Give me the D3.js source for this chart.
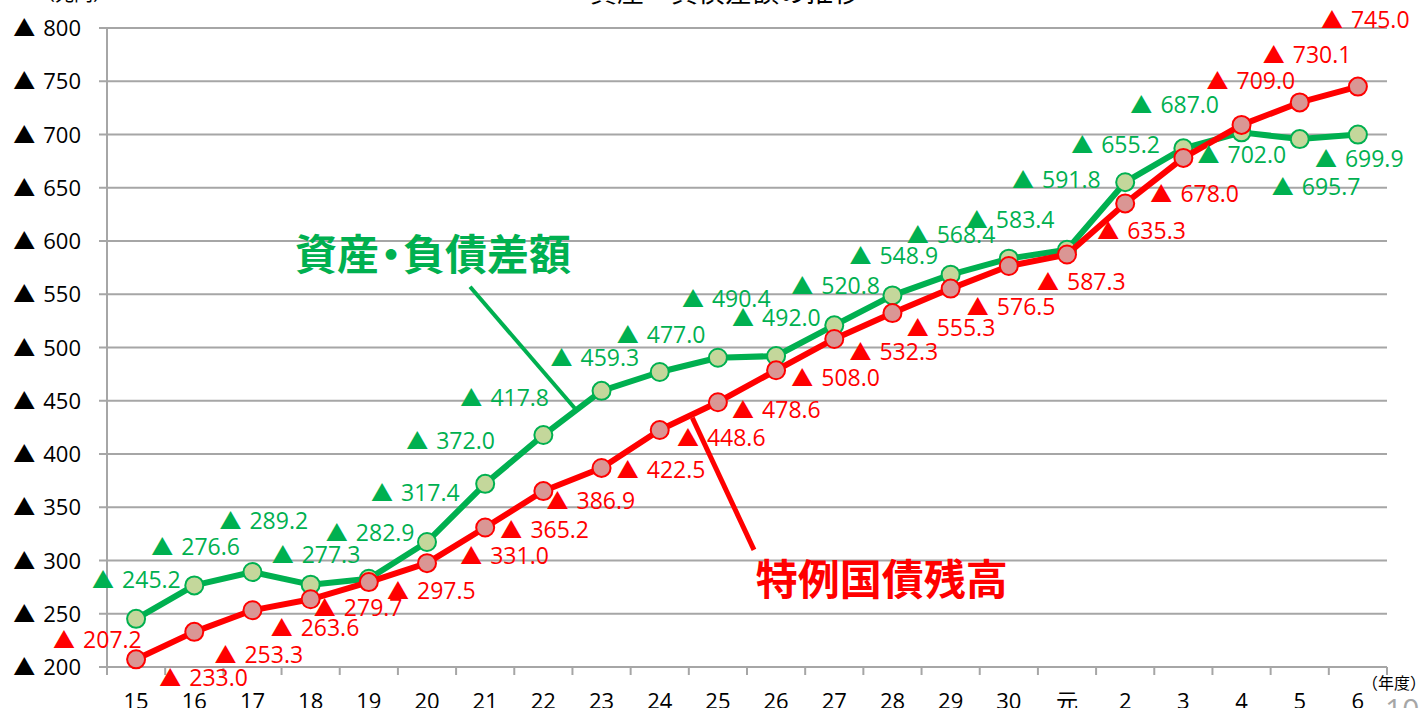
<!DOCTYPE html>
<html lang="ja">
<head>
<meta charset="utf-8">
<script src="https://cdn.jsdelivr.net/npm/d3@7"></script>
<style>
  html, body { margin: 0; padding: 0; background: #fff; overflow: hidden; }
  svg { display: block; }
  text { font-family: "Open Sans", "Noto Sans CJK JP", sans-serif; }
</style>
</head>
<body>
<svg id="chart"></svg>
<script>
// 年度
const categories = ['15', '16', '17', '18', '19', '20', '21', '22', '23', '24', '25',
  '26', '27', '28', '29', '30', '元', '2', '3', '4', '5', '6'];

// 資産・負債差額 (兆円, ▲)
const balanceGap = [245.2, 276.6, 289.2, 277.3, 282.9, 317.4, 372.0, 417.8, 459.3, 477.0, 490.4,
  492.0, 520.8, 548.9, 568.4, 583.4, 591.8, 655.2, 687.0, 702.0, 695.7, 699.9];

// 特例国債残高 (兆円)
const specialBonds = [207.2, 233.0, 253.3, 263.6, 279.7, 297.5, 331.0, 365.2, 386.9, 422.5, 448.6,
  478.6, 508.0, 532.3, 555.3, 576.5, 587.3, 635.3, 678.0, 709.0, 730.1, 745.0];

const yTicks = [200, 250, 300, 350, 400, 450, 500, 550, 600, 650, 700, 750, 800];

// label nudges (px from the point to the ▲ of its label), as placed in the original
const gapLabelNudge = [[-33, -39], [-32, -38], [-22, -51], [-28, -30], [-32, -46], [-45, -49],
  [-68, -43], [-72, -37], [-40, -33], [-32, -37], [-25, -59], [-33, -38], [-32, -39], [-32, -39],
  [-33, -40], [-32, -39], [-44, -70], [-43, -37], [-42, -43], [-33, 23], [-17, 48], [-32, 24]];
const bondLabelNudge = [[-72, -19], [-24, 46], [-27, 45], [-29, 29], [-44, 26], [-29, 28],
  [-14, 29], [-32, 39], [-44, 33], [-32, 40], [-30, 36], [-33, 40], [-32, 39], [-32, 39],
  [-33, 39], [-31, 41], [-19, 27], [-17, 28], [-22, 36], [-24, -44], [-26, -47], [-26, -67]];

const GREEN = '#00b050';
const RED = '#ff0000';
const GRID = '#a6a6a6';

const width = 1424;
const height = 708;

const svg = d3.select('#chart').attr('width', width).attr('height', height);

const x = d3.scaleBand().domain(categories).range([107, 1387]).padding(0);
const y = d3.scaleLinear().domain([200, 800]).range([667, 28]);
const cx = (i) => x(categories[i]) + x.bandwidth() / 2;
const xAt = (pos) => x.range()[0] + pos * x.step();

// title + units (cut off at the top in the original)
svg.append('text')
  .attr('x', 725).attr('y', 2)
  .attr('text-anchor', 'middle')
  .attr('font-size', 27)
  .attr('fill', '#000')
  .text('資産・負債差額の推移');

svg.append('text')
  .attr('x', 36).attr('y', 1)
  .attr('font-size', 19)
  .attr('fill', '#000')
  .text('（兆円）');

// horizontal grid
svg.append('g')
  .selectAll('line')
  .data(yTicks)
  .join('line')
  .attr('x1', 99)
  .attr('x2', x.range()[1])
  .attr('y1', (d) => y(d))
  .attr('y2', (d) => y(d))
  .attr('stroke', GRID)
  .attr('stroke-width', 2);

// y axis line
svg.append('line')
  .attr('x1', 107).attr('x2', 107)
  .attr('y1', y(800)).attr('y2', y(200) + 8)
  .attr('stroke', GRID)
  .attr('stroke-width', 2);

// y tick labels
const yLab = svg.append('g')
  .selectAll('text')
  .data(yTicks)
  .join('text')
  .attr('x', 81)
  .attr('y', (d) => y(d) + 8)
  .attr('text-anchor', 'end')
  .attr('font-size', 22)
  .attr('fill', '#000');
yLab.append('tspan').text('▲');
yLab.append('tspan').attr('dx', 8).text((d) => d);

// x axis: boundary ticks + centered labels
const bounds = categories.map((c) => x(c)).concat([x.range()[1]]);
svg.append('g')
  .selectAll('line')
  .data(bounds)
  .join('line')
  .attr('x1', (d) => d).attr('x2', (d) => d)
  .attr('y1', y(200)).attr('y2', y(200) + 8)
  .attr('stroke', GRID)
  .attr('stroke-width', 2);

const xAxis = svg.append('g')
  .attr('transform', `translate(0, ${y(200)})`)
  .call(d3.axisBottom(x).tickSize(0).tickPadding(0));
xAxis.select('.domain').remove();
xAxis.selectAll('text')
  .attr('y', 42)
  .attr('dy', null)
  .attr('font-size', 22)
  .attr('font-family', '"Open Sans", "Noto Sans CJK JP", sans-serif')
  .attr('fill', '#000');

svg.append('text')
  .attr('x', 1362).attr('y', 689)
  .attr('font-size', 16)
  .attr('fill', '#000')
  .text('（年度）');

svg.append('text')
  .attr('x', 1385).attr('y', 720)
  .attr('font-size', 30)
  .attr('fill', '#a6a6a6')
  .text('10');

// callouts (text split so the middle dot sits tight, as in the original)
const callouts = [
  { parts: ['資産', '・', '負債差額'], color: GREEN, at: [3.23, 573], from: [6.24, 557], to: [8.04, 443], w: 4 },
  { parts: ['特例国債残高'], color: RED, at: [11.15, 268], from: [10.06, 434], to: [11.12, 310], w: 5 },
];
callouts.forEach((c) => {
  svg.append('line')
    .attr('x1', xAt(c.from[0])).attr('y1', y(c.from[1]))
    .attr('x2', xAt(c.to[0])).attr('y2', y(c.to[1]))
    .attr('stroke', c.color)
    .attr('stroke-width', c.w);
  const t = svg.append('text')
    .attr('x', xAt(c.at[0])).attr('y', y(c.at[1]))
    .attr('font-size', 42)
    .attr('font-weight', 700)
    .attr('font-family', '"Noto Sans CJK JP", sans-serif')
    .attr('fill', c.color);
  c.parts.forEach((p, k) => {
    t.append('tspan').attr('dx', k === 0 ? 0 : -9).text(p);
  });
});

// series
const line = d3.line().x((d, i) => cx(i)).y((d) => y(d));

function drawSeries(values, stroke, fill) {
  svg.append('path')
    .datum(values)
    .attr('d', line)
    .attr('fill', 'none')
    .attr('stroke', stroke)
    .attr('stroke-width', 6)
    .attr('stroke-linejoin', 'round');
  svg.append('g')
    .selectAll('circle')
    .data(values)
    .join('circle')
    .attr('cx', (d, i) => cx(i))
    .attr('cy', (d) => y(d))
    .attr('r', 9)
    .attr('fill', fill)
    .attr('stroke', stroke)
    .attr('stroke-width', 2);
}

drawSeries(balanceGap, GREEN, '#c4d79b');
drawSeries(specialBonds, RED, '#da9694');

function drawLabels(values, nudges, color) {
  const t = svg.append('g')
    .selectAll('text')
    .data(values)
    .join('text')
    .attr('x', (d, i) => cx(i) + nudges[i][0] - 11)
    .attr('y', (d, i) => y(d) + nudges[i][1] + 8)
    .attr('font-size', 23)
    .attr('fill', color);
  t.append('tspan').attr('font-size', 22).text('▲');
  t.append('tspan').attr('dx', 8).text((d) => d.toFixed(1));
}

drawLabels(balanceGap, gapLabelNudge, GREEN);
drawLabels(specialBonds, bondLabelNudge, RED);
</script>
</body>
</html>
